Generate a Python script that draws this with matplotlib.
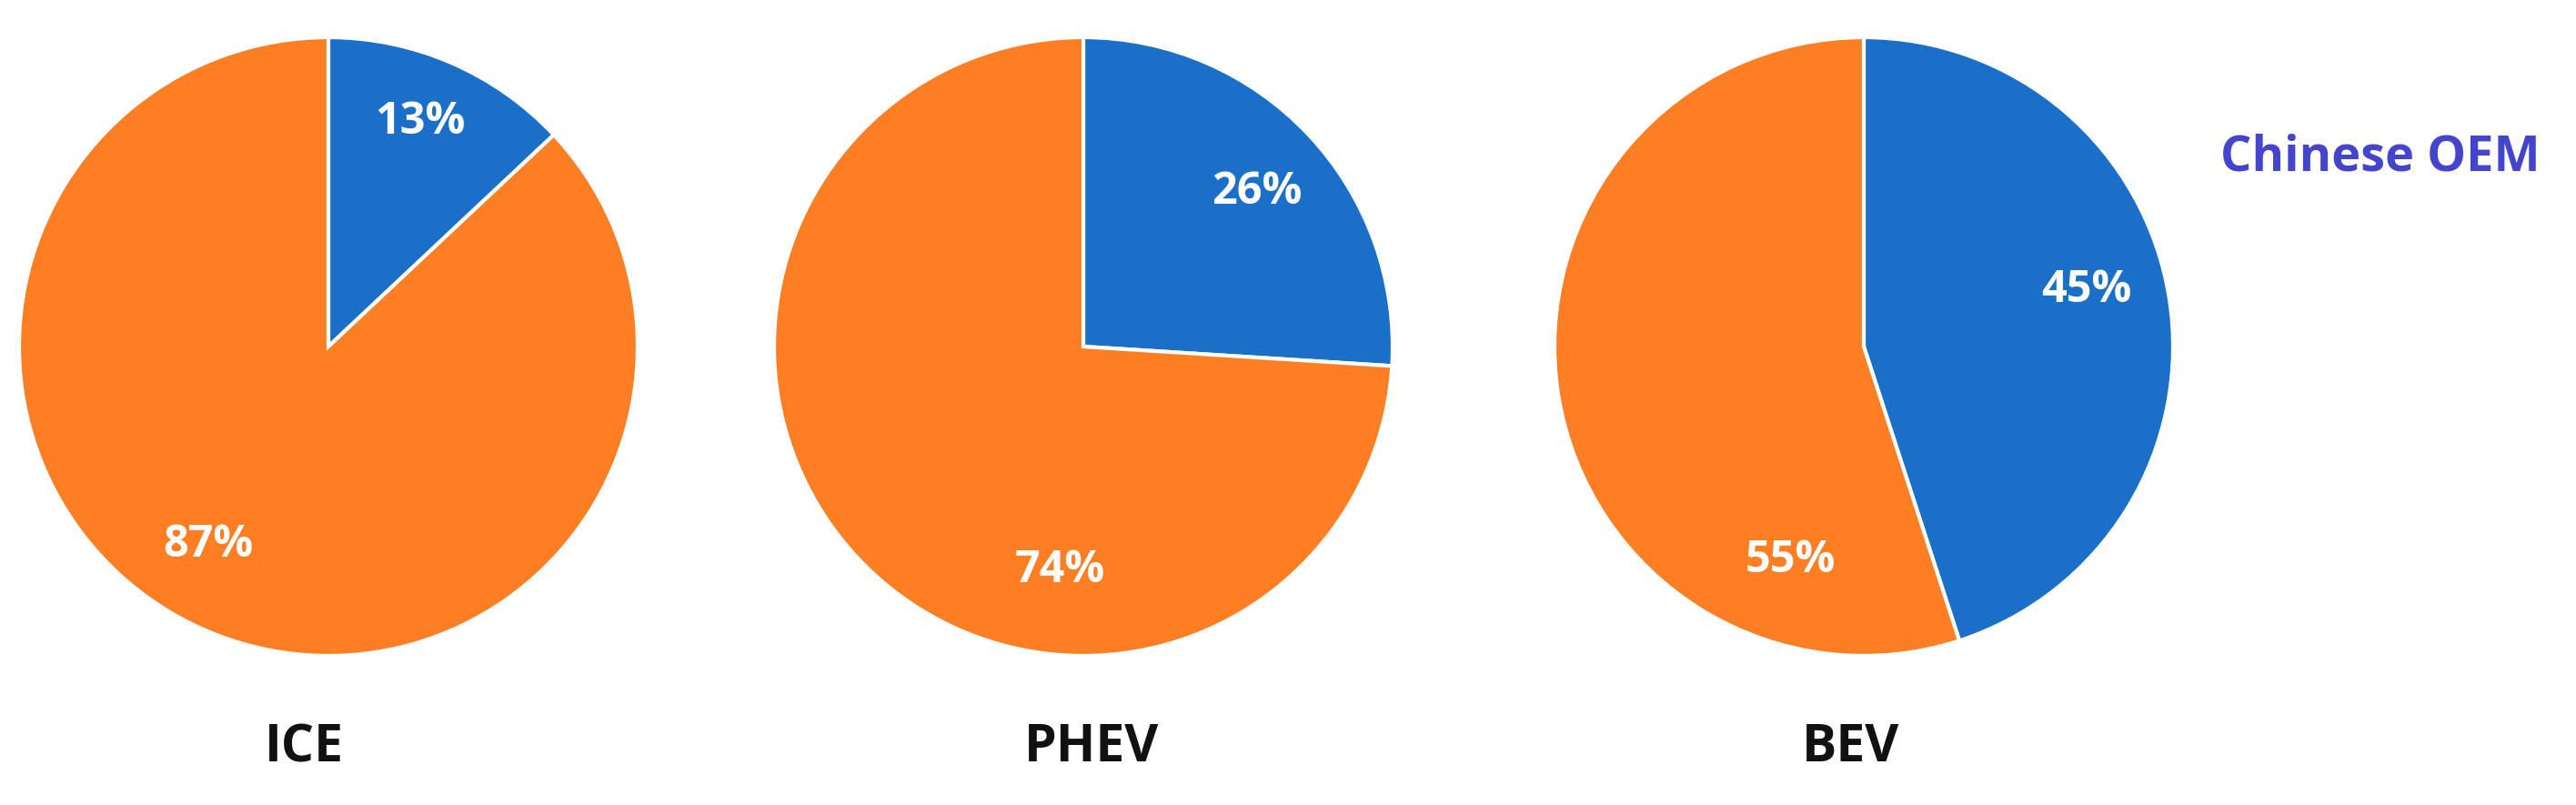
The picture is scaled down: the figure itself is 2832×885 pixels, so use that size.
import matplotlib.pyplot as plt

# share of Chinese OEMs per powertrain type
categories = ['ICE', 'PHEV', 'BEV']
chinese_share = [13, 26, 45]
other_share = [87, 74, 55]
legend_label = 'Chinese OEM'

blue = '#1a70c8'
orange = '#fd7e23'

plt.rcParams['font.family'] = ['Open Sans', 'DejaVu Sans']

fig = plt.figure(figsize=(14.16, 4.425), dpi=200)
ax = fig.add_axes([0, 0, 1, 1])

# pixel layout of the three pies
centers_x = [361, 1191, 2049]
center_y = 504
radius = 340
label_dx = [-27, 9, -15]
# where the percentage labels sit, as fractions of the radius
blue_pos = [(0.297, 0.724), (0.562, 0.50), (0.72, 0.18)]
orange_pos = [(-0.388, -0.644), (-0.076, -0.726), (-0.238, -0.694)]

for i, cat in enumerate(categories):
    cx = centers_x[i]
    wedges, texts, autotexts = ax.pie(
        [chinese_share[i], other_share[i]],
        colors=[blue, orange],
        startangle=90, counterclock=False,
        center=(cx, center_y), radius=radius,
        autopct=lambda p: f'{p:.0f}%', pctdistance=0.75,
        wedgeprops=dict(edgecolor='white', linewidth=1.5),
        textprops=dict(color='white', fontsize=17.5, fontweight='bold'))
    for t, (fx, fy) in zip(autotexts, [blue_pos[i], orange_pos[i]]):
        t.set_position((cx + fx * radius, center_y + fy * radius))
    ax.text(cx + label_dx[i], 63, cat, ha='center', va='center',
            fontsize=20.5, fontweight='bold', color='#111111')

ax.text(2617, 885 - 173, legend_label, ha='center', va='center',
        fontsize=19.5, fontweight='bold', color='#4444cc')

ax.set_xlim(0, 2832)
ax.set_ylim(0, 885)
ax.set_aspect('equal')
ax.axis('off')

fig.savefig('out.png', dpi=200, facecolor='white')
